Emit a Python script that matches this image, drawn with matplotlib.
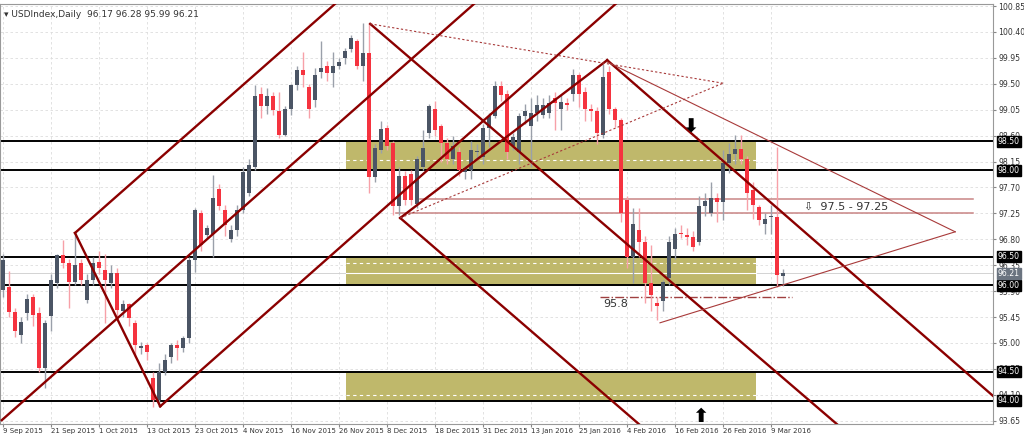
import matplotlib
matplotlib.use("Agg")
from matplotlib import pyplot as plt

# daily OHLC, USDIndex, 9 Sep 2015 .. 11 Mar 2016
opens = [95.92, 95.98, 95.53, 95.14, 95.52, 95.80, 95.52, 94.56, 95.47, 96.04,
         96.53, 96.38, 96.06, 96.38, 95.75, 96.09, 96.41, 96.27, 96.04, 96.22,
         95.56, 95.68, 95.35, 94.92, 94.96, 94.39, 94.01, 94.50, 94.76, 94.96,
         94.91, 95.08, 96.44, 97.25, 96.87, 96.90, 97.68, 97.31, 96.80, 96.96,
         97.31, 97.61, 98.06, 99.33, 99.11, 99.28, 99.03, 98.61, 99.06, 99.48,
         99.74, 99.44, 99.22, 99.71, 99.80, 99.68, 99.80, 99.94, 100.11, 100.24,
         99.81, 100.03, 97.89, 98.35, 98.73, 98.47, 97.37, 97.90, 97.94, 97.42,
         98.06, 98.65, 99.06, 98.77, 98.47, 98.19, 98.32, 97.97, 98.00, 98.32,
         98.23, 98.73, 98.94, 99.46, 99.33, 98.42, 98.32, 98.94, 98.77, 98.99,
         98.96, 98.99, 99.25, 99.07, 99.16, 99.33, 99.65, 99.36, 99.07, 99.02,
         98.61, 99.71, 99.07, 98.87, 97.48, 96.50, 96.96, 96.76, 96.04, 95.69,
         95.72, 96.12, 96.64, 96.90, 96.88, 96.84, 96.76, 97.38, 97.25, 97.51,
         97.44, 98.12, 98.28, 98.36, 98.20, 97.66, 97.36, 97.07, 97.19, 97.19,
         96.17]
closes = [96.44, 95.54, 95.20, 95.37, 95.77, 95.49, 94.56, 95.35, 96.09, 96.53,
          96.38, 96.06, 96.35, 96.09, 96.09, 96.38, 96.30, 96.09, 96.22, 95.57,
          95.68, 95.43, 94.96, 94.92, 94.85, 94.01, 94.50, 94.70, 94.96, 94.91,
          95.08, 96.44, 97.31, 96.70, 96.99, 97.52, 97.37, 97.05, 96.96, 97.31,
          97.97, 98.09, 99.29, 99.11, 99.28, 99.04, 98.61, 99.06, 99.48, 99.74,
          99.65, 99.07, 99.65, 99.77, 99.69, 99.80, 99.87, 100.07, 100.29, 99.81,
          100.03, 97.89, 98.38, 98.71, 98.42, 97.37, 97.90, 97.48, 97.48, 98.20,
          98.38, 99.11, 98.70, 98.47, 98.20, 98.42, 98.00, 98.03, 98.35, 98.32,
          98.73, 98.94, 99.46, 99.31, 98.32, 98.58, 98.94, 99.02, 98.99, 99.13,
          99.13, 99.16, 99.16, 99.19, 99.13, 99.65, 99.33, 99.07, 99.02, 98.64,
          99.62, 99.07, 98.87, 97.25, 96.50, 97.07, 96.76, 96.04, 95.83, 95.64,
          96.06, 96.76, 96.90, 96.89, 96.84, 96.67, 97.38, 97.46, 97.51, 97.44,
          98.12, 98.28, 98.36, 98.20, 97.60, 97.40, 97.14, 97.16, 97.19, 96.18,
          96.21]
highs = [96.55, 96.25, 95.60, 95.45, 95.85, 95.85, 95.62, 95.40, 96.20, 96.55,
         96.78, 96.45, 96.92, 96.45, 96.20, 96.50, 96.60, 96.55, 96.35, 96.30,
         95.75, 95.70, 95.40, 95.02, 95.00, 94.50, 94.65, 94.80, 95.00, 95.05,
         95.12, 96.50, 97.35, 97.30, 97.05, 97.92, 97.76, 97.40, 97.05, 97.40,
         98.05, 98.20, 99.48, 99.45, 99.42, 99.36, 99.35, 99.12, 99.50, 99.80,
         100.05, 99.50, 99.78, 100.25, 99.90, 100.05, 99.95, 100.12, 100.35, 100.28,
         100.55, 100.55, 98.45, 98.85, 98.78, 98.50, 98.05, 97.98, 98.00, 98.25,
         98.70, 99.15, 99.20, 98.80, 98.55, 98.60, 98.40, 98.08, 98.50, 98.45,
         98.80, 99.00, 99.55, 99.55, 99.40, 98.65, 99.00, 99.15, 99.25, 99.30,
         99.25, 99.30, 99.35, 99.30, 99.25, 99.75, 99.68, 99.45, 99.15, 99.10,
         99.85, 99.80, 99.10, 98.90, 97.55, 97.35, 97.35, 96.85, 96.70, 95.80,
         96.10, 96.85, 97.00, 97.05, 97.00, 96.95, 97.55, 97.60, 97.80, 97.60,
         98.35, 98.48, 98.61, 98.61, 98.25, 97.80, 97.40, 97.25, 97.40, 98.41,
         96.28]
lows = [95.80, 95.45, 95.10, 95.00, 95.40, 95.30, 94.50, 94.21, 95.20, 95.95,
        96.30, 95.60, 96.00, 96.00, 95.70, 96.00, 96.20, 95.35, 95.95, 95.45,
        95.45, 95.30, 94.75, 94.80, 94.70, 93.88, 93.90, 94.45, 94.65, 94.70,
        94.85, 95.00, 96.24, 96.60, 96.80, 96.50, 97.30, 96.85, 96.75, 96.85,
        97.25, 97.55, 98.00, 98.90, 98.98, 98.95, 98.55, 98.60, 98.95, 99.40,
        99.45, 98.90, 99.10, 99.60, 99.55, 99.45, 99.75, 99.85, 100.05, 99.75,
        99.55, 97.60, 97.80, 98.30, 98.35, 97.22, 97.22, 97.40, 97.40, 97.35,
        98.00, 98.55, 98.60, 98.15, 98.10, 98.10, 97.90, 97.85, 97.85, 98.20,
        98.10, 98.40, 98.90, 99.20, 98.20, 98.35, 98.10, 98.80, 98.05, 98.85,
        98.90, 98.90, 98.70, 98.70, 99.05, 99.20, 99.10, 98.85, 98.85, 98.45,
        98.55, 98.98, 98.75, 97.10, 96.30, 96.04, 96.50, 95.70, 95.55, 95.40,
        95.55, 96.00, 96.45, 96.82, 96.70, 96.60, 96.70, 97.20, 97.20, 97.10,
        97.14, 97.95, 98.10, 98.10, 97.30, 97.15, 97.05, 96.90, 96.90, 95.98,
        95.99]

date_labels = ["9 Sep 2015", "21 Sep 2015", "1 Oct 2015", "13 Oct 2015", "23 Oct 2015",
               "4 Nov 2015", "16 Nov 2015", "26 Nov 2015", "8 Dec 2015", "18 Dec 2015",
               "31 Dec 2015", "13 Jan 2016", "25 Jan 2016", "4 Feb 2016", "16 Feb 2016",
               "26 Feb 2016", "9 Mar 2016"]
price_ticks = [100.85, 100.40, 99.95, 99.50, 99.05, 98.60, 98.15, 97.70, 97.25, 96.80,
               96.35, 95.90, 95.45, 95.00, 94.55, 94.10, 93.65]
levels = [98.50, 98.00, 96.50, 96.00, 94.50, 94.00]
zones = [(98.00, 98.50), (96.00, 96.50), (94.00, 94.50)]
zone_dashes = [98.18, 96.38, 94.10]

# trend lines as (bar index, price) endpoints
thick_lines = [((-0.2, 93.66), (79.2, 100.95)), ((12, 96.91), (55.7, 100.92)),
               ((26.2, 93.90), (102.8, 100.95)), ((66.2, 97.17), (100.7, 99.91)),
               ((12, 96.91), (26.2, 93.90)), ((61.2, 100.54), (140, 93.50)),
               ((66.2, 97.17), (107, 93.50)), ((100.7, 99.91), (167, 93.90))]
thin_lines = [((100.7, 99.88), (158.7, 96.93)), ((109.5, 95.35), (158.7, 96.93))]
dotted_lines = [((61.2, 100.54), (120, 99.51)), ((66.2, 97.17), (120, 99.51))]

bull = "#4b5565"
bear = "#f5333f"
dred = "#8b0000"

fig = plt.figure(figsize=(10.24, 4.38), dpi=100)
ax = fig.add_axes([0, 14 / 438, 993 / 1024, 420 / 438])
ax.set_xlim(-0.5, 165.0)
ax.set_ylim(93.593, 100.885)

# grid
for i in range(0, 129, 8):
    ax.axvline(i, color="#dddddd", lw=0.6, ls=(0, (3, 3)), zorder=0)
for p in price_ticks:
    ax.axhline(p, color="#dddddd", lw=0.6, ls=(0, (3, 3)), zorder=0)

for lo, hi in zones:
    ax.fill_between([57.2, 125.5], lo, hi, color="#bfb86b", lw=0, zorder=1)
for p in zone_dashes:
    ax.plot([57.2, 125.5], [p, p], color="white", lw=0.8, ls=(0, (3, 3)), zorder=1.5)
ax.plot([57.2, 125.5], [96.22, 96.22], color="white", lw=0.8, zorder=1.5)
ax.axhline(96.21, color="#cccccc", lw=0.6, zorder=0.5)

for p in levels:
    ax.axhline(p, color="black", lw=1.4, zorder=2)

ax.plot([69.5, 161.7], [97.5, 97.5], color="#c98585", lw=1.1, zorder=2)
ax.plot([65.5, 161.7], [97.25, 97.25], color="#c98585", lw=1.1, zorder=2)
ax.plot([99.5, 131.5], [95.8, 95.8], color="#a04040", lw=1.0, ls="-.", zorder=2)

# candles
for i in range(len(opens)):
    o, c, h, l = opens[i], closes[i], highs[i], lows[i]
    col = bull if c >= o else bear
    wcol = "#9aa0aa" if c >= o else "#f7a0a8"
    ax.vlines(i, l, h, color=wcol, lw=1.0, zorder=3)
    body = max(abs(c - o), 0.02)
    ax.bar(i, body, bottom=min(o, c), width=0.62, color=col, lw=0, zorder=4)

for (x0, y0), (x1, y1) in thick_lines:
    ax.plot([x0, x1], [y0, y1], color=dred, lw=1.7, zorder=5)
for (x0, y0), (x1, y1) in thin_lines:
    ax.plot([x0, x1], [y0, y1], color="#a83a3a", lw=0.8, zorder=5)
for (x0, y0), (x1, y1) in dotted_lines:
    ax.plot([x0, x1], [y0, y1], color="#a83a3a", lw=0.8, ls=(0, (2, 2)), zorder=5)

ax.text(100, 95.68, "95.8", fontsize=8, color="#333333", va="center", zorder=6)
ax.text(133.5, 97.36, "⇩  97.5 - 97.25", fontsize=8, color="#333333", va="center", zorder=6)
ax.text(114.5, 98.75, "⬇", fontsize=14, fontweight="bold", ha="center", va="center", zorder=6)
ax.text(116.2, 93.72, "⬆", fontsize=14, fontweight="bold", ha="center", va="center", zorder=6)
ax.text(0.004, 0.985, "▾ USDIndex,Daily  96.17 96.28 95.99 96.21", transform=ax.transAxes,
        fontsize=6.5, color="#333333", va="top", zorder=6)

ax.set_xticks(range(0, 129, 8))
ax.set_xticklabels(date_labels, fontsize=5.0, ha="left", color="#333333")
ax.tick_params(axis="x", length=2, pad=1, colors="#888888", labelcolor="#333333")
ax.yaxis.tick_right()
ax.set_yticks(price_ticks)
ax.set_yticklabels(["%.2f" % p for p in price_ticks], fontsize=5.6, color="#333333")
ax.tick_params(axis="y", length=2, pad=2, colors="#888888", labelcolor="#333333")
for p in levels:
    ax.text(1.005, p, "%.2f" % p, transform=ax.get_yaxis_transform(), fontsize=5.6,
            color="white", va="center",
            bbox=dict(boxstyle="square,pad=0.15", fc="black", ec="black"))
ax.text(1.005, 96.21, "96.21", transform=ax.get_yaxis_transform(), fontsize=5.6,
        color="white", va="center",
        bbox=dict(boxstyle="square,pad=0.15", fc="#6b7480", ec="#6b7480"))
for s in ax.spines.values():
    s.set_color("#999999")
    s.set_linewidth(0.8)

fig.savefig("out.png", dpi=100)
